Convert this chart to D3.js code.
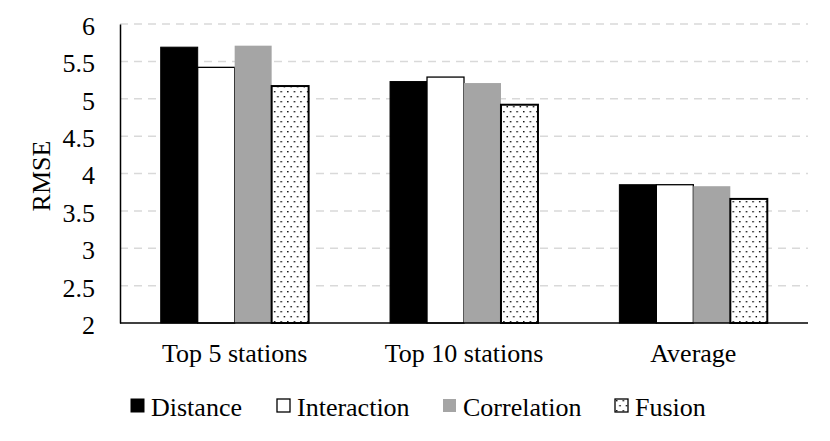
<!DOCTYPE html>
<html>
<head>
  <meta charset="UTF-8">
  <style>
    body { margin: 0; background: #fff; }
    text { font-family: "Liberation Serif", "Times New Roman", serif; fill: #000; }
  </style>
</head>
<body>
<svg></svg>
<script src="https://d3js.org/d3.v7.min.js"></script>
<script>

let width = 830, height = 441;

// data
let categories = ["Top 5 stations", "Top 10 stations", "Average"];
let seriesNames = ["Distance", "Interaction", "Correlation", "Fusion"];
let distance = [5.69, 5.23, 3.85];
let interaction = [5.42, 5.29, 3.85];
let correlation = [5.71, 5.21, 3.83];
let fusion = [5.17, 4.92, 3.66];
let yTicks = [2, 2.5, 3, 3.5, 4, 4.5, 5, 5.5, 6];

let seriesValues = [distance, interaction, correlation, fusion];

let margin = {left: 120, right: 22, top: 24, bottom: 118};
let fontSize = "26px";

let svg = d3.select("svg")
    .attr("width", width)
    .attr("height", height);

// dotted pattern for Fusion
let defs = svg.append("defs");
let pat = defs.append("pattern")
    .attr("id", "dots")
    .attr("patternUnits", "userSpaceOnUse")
    .attr("width", 6.6)
    .attr("height", 10);
pat.append("rect").attr("width", 6.6).attr("height", 10).attr("fill", "#fff");
pat.append("rect").attr("x", 1).attr("y", 1).attr("width", 1.4).attr("height", 1.4).attr("fill", "#000");
pat.append("rect").attr("x", 4.3).attr("y", 6).attr("width", 1.4).attr("height", 1.4).attr("fill", "#000");

let styles = [
    {fill: "#000", stroke: "#000", sw: 1},
    {fill: "#fff", stroke: "#000", sw: 1.3},
    {fill: "#a5a5a5", stroke: "none", sw: 0},
    {fill: "url(#dots)", stroke: "#000", sw: 2}
];

let x0 = d3.scaleBand()
    .domain(categories)
    .range([margin.left, width - margin.right])
    .paddingInner(0.355)
    .paddingOuter(0.1775);

let x1 = d3.scaleBand()
    .domain(seriesNames)
    .range([0, x0.bandwidth()]);

let y = d3.scaleLinear()
    .domain([2, 6])
    .range([height - margin.bottom, margin.top]);

// grid
svg.append("g")
    .selectAll("line")
    .data(yTicks.slice(1))
    .enter()
    .append("line")
    .attr("x1", margin.left)
    .attr("x2", width - margin.right)
    .attr("y1", d => y(d))
    .attr("y2", d => y(d))
    .attr("stroke", "#d9d9d9")
    .attr("stroke-width", 1.5)
    .attr("stroke-dasharray", "8,6");

// bars
let groups = svg.append("g")
    .selectAll("g")
    .data(categories)
    .enter()
    .append("g")
    .attr("transform", d => "translate(" + x0(d) + ",0)");

groups.selectAll("rect")
    .data((c, i) => seriesNames.map((s, j) => ({s: s, j: j, v: seriesValues[j][i]})))
    .enter()
    .append("rect")
    .attr("x", d => x1(d.s))
    .attr("width", x1.bandwidth())
    .attr("y", d => y(d.v))
    .attr("height", d => y(2) - y(d.v))
    .attr("fill", d => styles[d.j].fill)
    .attr("stroke", d => styles[d.j].stroke)
    .attr("stroke-width", d => styles[d.j].sw);

// axes
let yAxis = d3.axisLeft(y).tickValues(yTicks).tickSize(0).tickPadding(25).tickFormat(d3.format("~g"));
let ya = svg.append("g")
    .attr("transform", "translate(" + margin.left + ",0)")
    .call(yAxis);
ya.select(".domain").attr("stroke", "#000").attr("stroke-width", 1.5);
ya.selectAll("text").style("font-size", fontSize).style("font-family", "Liberation Serif")
    .attr("dy", "0.4em");

let xAxis = d3.axisBottom(x0).tickSize(0).tickPadding(25);
let xa = svg.append("g")
    .attr("transform", "translate(0," + y(2) + ")")
    .call(xAxis);
xa.select(".domain").attr("stroke", "#000").attr("stroke-width", 1.5)
    .attr("d", "M" + margin.left + ",0H" + (width - margin.right));
xa.selectAll("text").style("font-size", fontSize).style("font-family", "Liberation Serif")
    .attr("dy", "0.55em");

svg.append("text")
    .attr("transform", "translate(50,176) rotate(-90)")
    .attr("text-anchor", "middle")
    .style("font-size", fontSize)
    .text("RMSE");

// legend
let legendX = [131, 277, 443, 615];
let legend = svg.append("g")
    .selectAll("g")
    .data(seriesNames)
    .enter()
    .append("g")
    .attr("transform", (d, i) => "translate(" + legendX[i] + ",399)");

legend.append("rect")
    .attr("width", 13)
    .attr("height", 13)
    .attr("fill", (d, i) => styles[i].fill)
    .attr("stroke", (d, i) => styles[i].stroke)
    .attr("stroke-width", (d, i) => Math.min(styles[i].sw, 1.3));

legend.append("text")
    .attr("x", 20)
    .attr("y", 16.5)
    .style("font-size", fontSize)
    .text(d => d);

</script>
</body>
</html>
